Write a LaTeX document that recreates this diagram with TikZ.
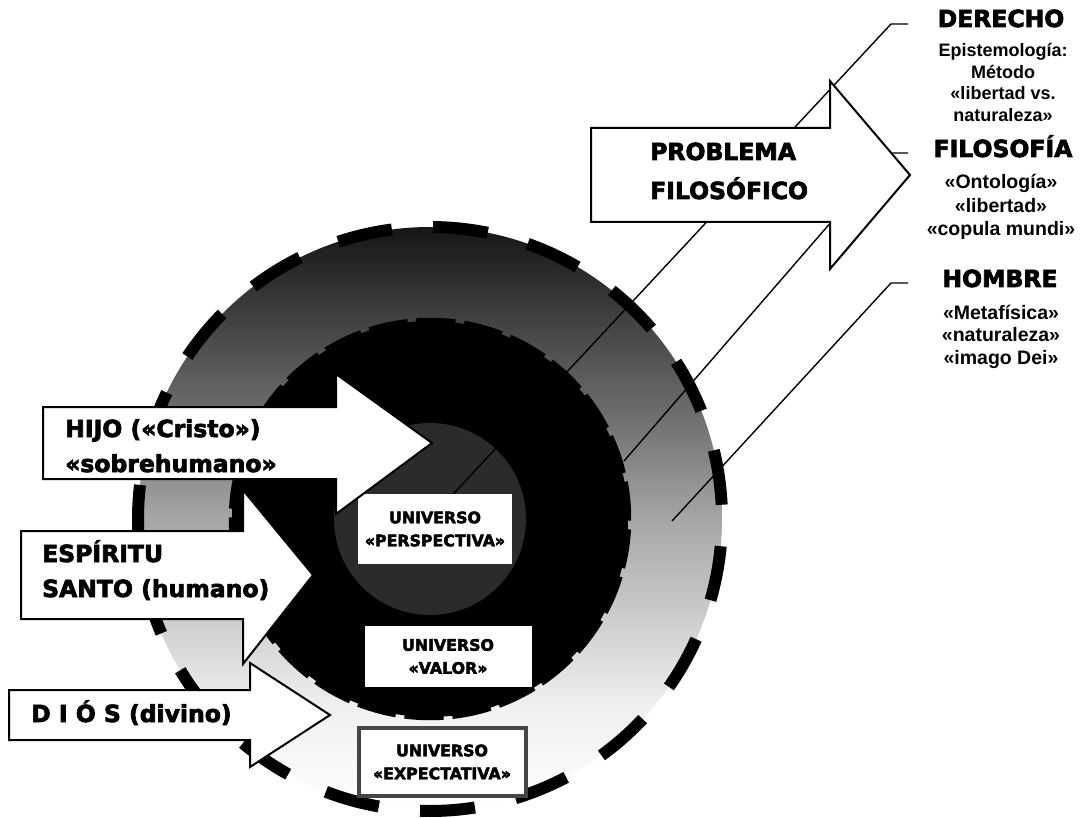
\documentclass[tikz,border=0pt]{standalone}
\usepackage{fontspec}
\setmainfont{Liberation Sans}
\newfontfamily\heavyfont[FakeBold=3]{DejaVu Sans Bold}
\usetikzlibrary{calc}

% grey levels of the outer disc, bottom to top
\definecolor{shA}{gray}{0.94}
\definecolor{shB}{gray}{0.65}
\definecolor{shC}{gray}{0.43}
\definecolor{shD}{gray}{0.085}
\definecolor{coregray}{gray}{0.17}
\definecolor{framegray}{gray}{0.27}
\pgfdeclareverticalshading{ringshade}{100bp}{color(0bp)=(white); color(25bp)=(white); color(34bp)=(shA); color(50bp)=(shB); color(59bp)=(shC); color(75bp)=(shD); color(100bp)=(shD)}

\begin{document}
\begin{tikzpicture}[x=1pt,y=-1pt,
  heavy/.style={font=\heavyfont\fontsize{23.5}{28}\selectfont, inner sep=0pt},
  sub/.style={font=\bfseries\fontsize{19.5}{21.5}\selectfont, inner sep=0pt},
  smallsub/.style={font=\bfseries\fontsize{18}{20}\selectfont, inner sep=0pt},
  unibox/.style={fill=white, inner sep=0pt, align=center,
    font=\heavyfont\fontsize{15.8}{23}\selectfont},
  blockarrow/.style={draw=black, line width=2pt, fill=white, line join=miter},
  leader/.style={draw=black, line width=1.4pt},
  outerdash/.style={line width=12pt, line cap=butt},
  innerdash/.style={line width=6.5pt, line cap=butt},
]
\useasboundingbox (0,0) rectangle (1081,818);
\coordinate (c) at (430,519);

% outer shaded disc with its heavy dashed rim
\shade[shading=ringshade] (c) circle[radius=292];
\foreach \i in {0,...,18}
  \draw[outerdash] ($(c)+({-89.4+\i*18.95}:292)$)
    arc[start angle={-89.4+\i*18.95}, delta angle=10.8, radius=292];

% black middle disc, its rim dashed in black
\fill[black] (c) circle[radius=198];
\foreach \i in {0,...,25}
  \draw[innerdash] ($(c)+({3+\i*13.846}:198)$)
    arc[start angle={3+\i*13.846}, delta angle=11.3, radius=198];

% dark core
\fill[coregray] (c) circle[radius=96];

% leader lines to the three labels on the right
\coordinate (s2) at (624,461);
\coordinate (s3) at (672,521);
\coordinate (k1) at (891,24);  \coordinate (e1) at (908,24);
\coordinate (k2) at (891,153); \coordinate (e2) at (908,153);
\coordinate (k3) at (891,283); \coordinate (e3) at (908,283);
\draw[leader] (c) -- (k1) -- (e1);
\draw[leader] (s2) -- (k2) -- (e2);
\draw[leader] (s3) -- (k3) -- (e3);

% the three universes
\node[unibox, minimum width=154pt, minimum height=70pt] (persp) at (435,529)
  {UNIVERSO\\«PERSPECTIVA»};
\node[unibox, minimum width=167pt, minimum height=61pt] (valor) at (448,656.5)
  {UNIVERSO\\«VALOR»};
\node[unibox, draw=framegray, line width=4pt, minimum width=167pt, minimum height=68pt]
  (expect) at (442,762) {UNIVERSO\\«EXPECTATIVA»};

% block arrows
\draw[blockarrow] (591,128) -- (830,128) -- (830,81) -- (910,175) -- (830,269)
  -- (830,222) -- (591,222) -- cycle;
\draw[blockarrow] (43,407) -- (336,407) -- (336,374) -- (432,443) -- (336,514)
  -- (336,479) -- (43,479) -- cycle;
\draw[blockarrow] (21,531) -- (243,531) -- (243,490) -- (313,575) -- (243,664)
  -- (243,619) -- (21,619) -- cycle;
\draw[blockarrow] (9,690) -- (250,690) -- (250,663) -- (330,715) -- (250,767)
  -- (250,740) -- (9,740) -- cycle;

% arrow texts
\node[heavy, anchor=base west] (prob1) at (650,160) {PROBLEMA};
\node[heavy, anchor=base west] (prob2) at (650,199) {FILOSÓFICO};
\node[heavy, anchor=base west] (hijo1) at (65,437) {HIJO («Cristo»)};
\node[heavy, anchor=base west] (hijo2) at (65,472) {«sobrehumano»};
\node[heavy, anchor=base west] (esp1) at (42,562) {ESPÍRITU};
\node[heavy, anchor=base west] (esp2) at (42,597) {SANTO (humano)};
\node[heavy, anchor=base west] (dios) at (31,722) {D I Ó S (divino)};

% labels on the right
\node[heavy, anchor=base] (derecho) at (1001,27) {DERECHO};
\foreach \t/\y [count=\n] in {Epistemología:/57, Método/78.5, «libertad vs./100, naturaleza»/121.5}
  \node[smallsub, anchor=base] (der\n) at (1003,\y) {\t};
\node[heavy, anchor=base] (filosofia) at (1003,157) {FILOSOFÍA};
\foreach \t/\y [count=\n] in {«Ontología»/189, «libertad»/212.5, «copula mundi»/236}
  \node[sub, anchor=base] (fil\n) at (1001,\y) {\t};
\node[heavy, anchor=base] (hombre) at (1000,287) {HOMBRE};
\foreach \t/\y [count=\n] in {«Metafísica»/319, «naturaleza»/341.5, «imago Dei»/364}
  \node[sub, anchor=base] (hom\n) at (1001,\y) {\t};
\end{tikzpicture}
\end{document}
